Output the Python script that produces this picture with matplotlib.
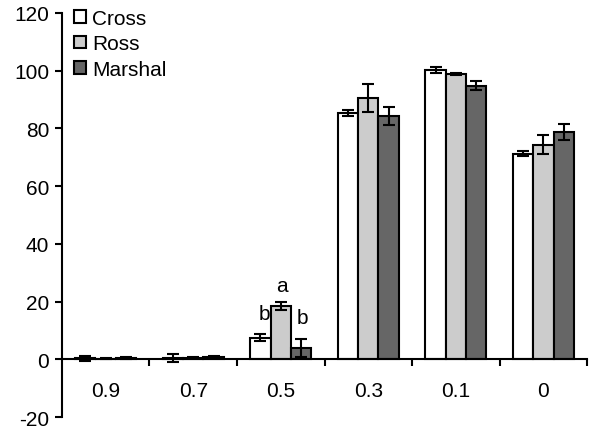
import matplotlib
matplotlib.use("Agg")
import matplotlib.pyplot as plt
import numpy as np

plt.rcParams['font.family'] = ['Liberation Sans', 'DejaVu Sans']
plt.rcParams['axes.unicode_minus'] = False

categories = ['0.9', '0.7', '0.5', '0.3', '0.1', '0']
series = ['Cross', 'Ross', 'Marshal']
cross = [0.3, 0.3, 7.5, 85.3, 100.2, 71.2]
ross = [0.2, 0.6, 18.5, 90.5, 98.8, 74.3]
marshal = [0.5, 0.8, 3.9, 84.3, 94.8, 78.8]
cross_err = [1.0, 1.4, 1.2, 1.0, 0.9, 0.9]
ross_err = [0.2, 0.3, 1.3, 4.7, 0.2, 3.3]
marshal_err = [0.3, 0.5, 3.0, 3.2, 1.6, 2.8]
annot_text = ['b', 'a', 'b']
annot_cat = [2, 2, 2]
annot_y = [16.0, 25.7, 14.6]

colors = ['white', '#cccccc', '#666666']

fig = plt.figure(figsize=(5.89, 4.31), dpi=100)
ax = fig.add_axes([0.105, 0.030, 0.892, 0.938])

x = np.arange(len(categories))
w = 0.232
vals = [cross, ross, marshal]
errs = [cross_err, ross_err, marshal_err]
for i, (name, v, e, c) in enumerate(zip(series, vals, errs, colors)):
    ax.bar(x + (i - 1) * w, v, w, color=c, edgecolor='black', linewidth=1.5,
           label=name, zorder=2)
    ax.errorbar(x + (i - 1) * w, v, yerr=e, fmt='none', ecolor='black',
                elinewidth=1.5, capsize=4, capthick=1.5, zorder=3)

# significance letters
dxs = [-0.19, 0.01, 0.25]
for txt, ci, yv, dx in zip(annot_text, annot_cat, annot_y, dxs):
    ax.text(ci + dx, yv, txt, ha='center', va='center', fontsize=15)

ax.set_xlim(-0.5, 5.5)
ax.set_ylim(-20, 120)
ax.set_yticks(np.arange(-20, 121, 20))
ax.spines['top'].set_visible(False)
ax.spines['right'].set_visible(False)
ax.spines['bottom'].set_position(('data', 0))
ax.spines['left'].set_linewidth(1.5)
ax.spines['bottom'].set_linewidth(1.5)
ax.tick_params(axis='y', direction='out', length=5, width=1.5, labelsize=15, pad=4)
ax.set_xticks(np.arange(0.5, 5.6, 1.0))
ax.set_xticklabels([])
ax.tick_params(axis='x', direction='out', length=5, width=1.5)
for xi, lab in zip(x, categories):
    ax.text(xi, -10.8, lab, ha='center', va='center', fontsize=15)

leg = ax.legend(loc='upper left', bbox_to_anchor=(0.0, 1.04), frameon=False,
                fontsize=15, handlelength=0.55, handleheight=0.55,
                handletextpad=0.3, labelspacing=0.3, borderaxespad=0.2)

fig.savefig('out.png', dpi=100)
